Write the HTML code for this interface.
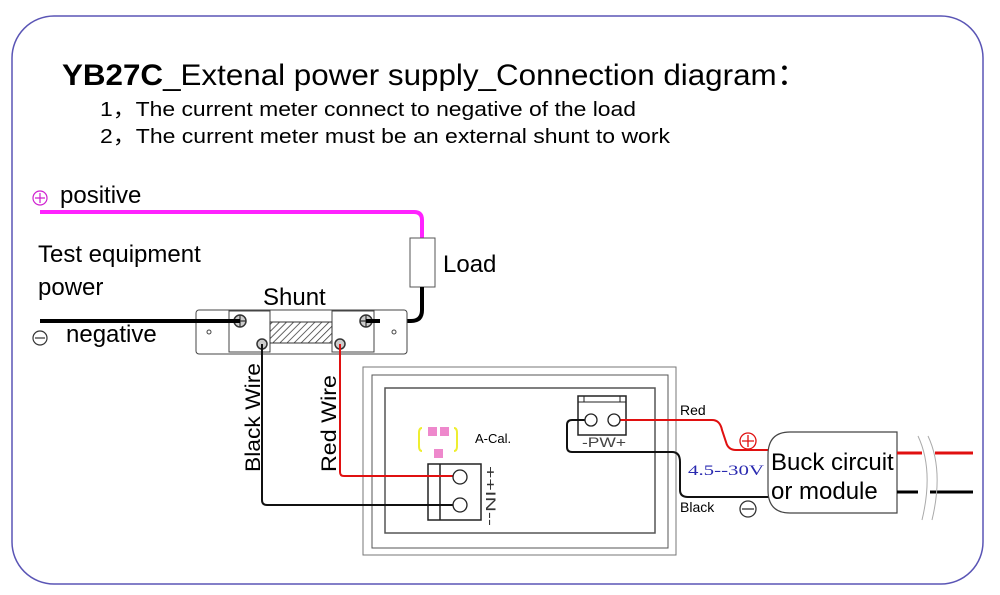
<!DOCTYPE html>
<html><head><meta charset="utf-8"><style>
html,body{margin:0;padding:0;background:#fff;}
svg{display:block;font-family:"Liberation Sans",sans-serif;}
</style></head><body>
<svg width="1000" height="595" viewBox="0 0 1000 595" xmlns="http://www.w3.org/2000/svg">
<rect width="1000" height="595" fill="#fff"/>
<rect x="12" y="16" width="971" height="568" rx="42" fill="#fff" stroke="#5a55b5" stroke-width="1.5"/>
<text x="62" y="85" font-size="30" textLength="746" lengthAdjust="spacingAndGlyphs"><tspan font-weight="bold">YB27C</tspan>_Extenal power supply_Connection diagram：</text>
<text x="100" y="116" font-size="20" textLength="536" lengthAdjust="spacingAndGlyphs">1，The current meter connect to negative of the load</text>
<text x="100" y="143" font-size="20" textLength="570" lengthAdjust="spacingAndGlyphs">2，The current meter must be an external shunt to work</text>

<!-- positive -->
<circle cx="40" cy="198" r="7" fill="none" stroke="#d020d0" stroke-width="1.2"/>
<path d="M35 198H45M40 193V203" stroke="#d020d0" stroke-width="1.2"/>
<text x="60" y="203" font-size="24">positive</text>
<path d="M40 212H414Q422 212 422 220V238" fill="none" stroke="#ff22ff" stroke-width="4"/>
<rect x="410" y="238" width="25" height="49" fill="#fff" stroke="#555" stroke-width="1"/>
<text x="443" y="272" font-size="24">Load</text>
<path d="M422 287V310Q422 321 411 321H366" fill="none" stroke="#000" stroke-width="4"/>
<text x="38" y="262" font-size="24">Test equipment</text>
<text x="38" y="295" font-size="24">power</text>
<circle cx="40" cy="338" r="7" fill="none" stroke="#333" stroke-width="1.2"/>
<path d="M35 338H45" stroke="#333" stroke-width="1.2"/>
<text x="66" y="342" font-size="24">negative</text>

<!-- shunt -->
<text x="263" y="305" font-size="24">Shunt</text>
<rect x="196" y="310" width="211" height="44" rx="3" fill="#fff" stroke="#444" stroke-width="1"/>
<rect x="229" y="311" width="41" height="41" fill="#fff" stroke="#444"/>
<rect x="332" y="311" width="42" height="41" fill="#fff" stroke="#444"/>
<defs><pattern id="h" width="5" height="5" patternUnits="userSpaceOnUse" patternTransform="rotate(45)"><path d="M0 0V5" stroke="#333" stroke-width="1.5"/></pattern></defs>
<rect x="270" y="322" width="62" height="21" fill="url(#h)" stroke="#333"/>
<circle cx="209" cy="332" r="2" fill="none" stroke="#444"/>
<circle cx="394" cy="332" r="2" fill="none" stroke="#444"/>
<g fill="#ccc" stroke="#333" stroke-width="1.5">
<circle cx="240" cy="321" r="6"/><circle cx="366" cy="321" r="6"/>
<circle cx="262" cy="344" r="5"/><circle cx="340" cy="344" r="5"/></g>
<path d="M234 321H246M240 315V327M360 321H372M366 315V327" stroke="#333" stroke-width="1.2"/>
<path d="M40 321H240M366 321H380" stroke="#000" stroke-width="4"/>

<!-- wires -->
<path d="M262 344V500Q262 505 267 505H453" fill="none" stroke="#111" stroke-width="2"/>
<path d="M340 344V472Q340 476 344 476H453" fill="none" stroke="#e01010" stroke-width="2"/>
<text transform="translate(260,472) rotate(-90)" font-size="21" textLength="109" lengthAdjust="spacingAndGlyphs">Black Wire</text>
<text transform="translate(336,472) rotate(-90)" font-size="21" textLength="97" lengthAdjust="spacingAndGlyphs">Red Wire</text>

<!-- meter -->
<rect x="363" y="367" width="313" height="188" fill="none" stroke="#777" stroke-width="1"/>
<rect x="372" y="375" width="296" height="173" fill="none" stroke="#555" stroke-width="1"/>
<rect x="385" y="388" width="270" height="145" fill="none" stroke="#555" stroke-width="1.5"/>
<path d="M422 428Q419 428 419 433V446Q419 451 422 451M454 428Q457 428 457 433V446Q457 451 454 451" fill="none" stroke="#eeee30" stroke-width="2"/>
<rect x="428" y="427" width="9" height="9" fill="#ee88cc"/><rect x="440" y="427" width="9" height="9" fill="#ee88cc"/>
<rect x="434" y="449" width="9" height="9" fill="#ee88cc"/>
<text x="475" y="443" font-size="13">A-Cal.</text>
<rect x="428" y="464" width="53" height="56" fill="#fff" stroke="#222" stroke-width="1.5"/>
<path d="M440 464V520" stroke="#222" stroke-width="1.5"/>
<path d="M344 476H453" stroke="#e01010" stroke-width="2"/>
<path d="M267 505H453" stroke="#111" stroke-width="2"/>
<circle cx="460" cy="477" r="7" fill="#fff" stroke="#222" stroke-width="1.3"/>
<circle cx="460" cy="505" r="7" fill="#fff" stroke="#222" stroke-width="1.3"/>
<text transform="translate(486,466) rotate(90)" font-size="14" fill="#333" textLength="60" lengthAdjust="spacingAndGlyphs">++IN--</text>

<rect x="578" y="396" width="48" height="39" fill="#fff" stroke="#222" stroke-width="1.5"/>
<path d="M578 402H626M584 396V402M620 396V402" stroke="#222" stroke-width="1"/>
<path d="M591 420H572Q567 420 567 425V447Q567 452 572 452H672Q680 452 680 462V490Q680 497 688 497H770" fill="none" stroke="#111" stroke-width="2"/>
<path d="M614 420H712Q720 420 722 430L726 442Q728 450 736 450H770" fill="none" stroke="#e01010" stroke-width="2"/>
<circle cx="591" cy="420" r="6" fill="#fff" stroke="#222" stroke-width="1.3"/>
<circle cx="614" cy="420" r="6" fill="#fff" stroke="#222" stroke-width="1.3"/>
<text x="582" y="447" font-size="14" fill="#444" textLength="44" lengthAdjust="spacingAndGlyphs">-PW+</text>
<text x="680" y="415" font-size="14">Red</text>
<text x="680" y="512" font-size="14">Black</text>
<text x="688" y="475" font-size="15" fill="#2a2ab0" font-family="Liberation Serif,serif" textLength="76" lengthAdjust="spacingAndGlyphs">4.5--30V</text>
<circle cx="748" cy="441" r="8" fill="none" stroke="#e01010" stroke-width="1.3"/>
<path d="M742 441H754M748 435V447" stroke="#e01010" stroke-width="1.3"/>
<circle cx="748" cy="509" r="8" fill="none" stroke="#333" stroke-width="1.3"/>
<path d="M742 509H754" stroke="#333" stroke-width="1.3"/>

<!-- buck -->
<path d="M790 432H897V513H790Q768 513 768 490V455Q768 432 790 432Z" fill="#fff" stroke="#444" stroke-width="1.2"/>
<text x="771" y="470" font-size="24">Buck circuit</text>
<text x="771" y="499" font-size="24">or module</text>
<path d="M897 453H922M935 453H973" stroke="#e01010" stroke-width="3"/>
<path d="M897 492H918M930 492H973" stroke="#000" stroke-width="3"/>
<path d="M918 436Q934 470 922 520M928 436Q944 470 932 520" fill="none" stroke="#aaa" stroke-width="1"/>
</svg>
</body></html>
